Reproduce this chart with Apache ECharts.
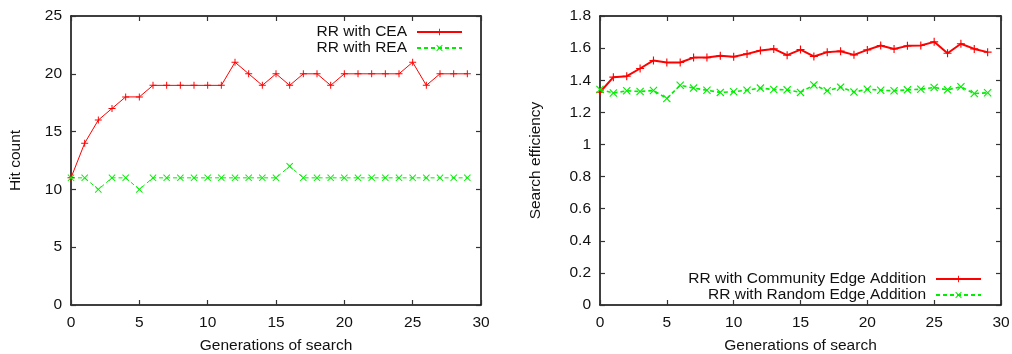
<!DOCTYPE html>
<html>
<head>
<meta charset="utf-8">
<script src="https://cdn.jsdelivr.net/npm/echarts@6/dist/echarts.min.js"></script>
<style>
  html, body { margin: 0; padding: 0; background: #fff; }
  #chart { width: 1012px; height: 354px; }
</style>
</head>
<body>
<div id="chart"></div>
<script>
  // generations 0..29
  var generations = [0, 1, 2, 3, 4, 5, 6, 7, 8, 9, 10, 11, 12, 13, 14, 15, 16, 17, 18, 19, 20, 21, 22, 23, 24, 25, 26, 27, 28, 29]

  // left panel: hit count
  var hitCEA = [11, 14, 16, 17, 18, 18, 19, 19, 19, 19, 19, 19, 21, 20, 19, 20, 19, 20, 20, 19, 20, 20, 20, 20, 20, 21, 19, 20, 20, 20]
  var hitREA = [11, 11, 10, 11, 11, 10, 11, 11, 11, 11, 11, 11, 11, 11, 11, 11, 12, 11, 11, 11, 11, 11, 11, 11, 11, 11, 11, 11, 11, 11]

  // right panel: search efficiency
  var effCEA = [1.325, 1.419, 1.425, 1.473, 1.523, 1.510, 1.510, 1.541, 1.541, 1.552, 1.546, 1.564, 1.585, 1.595, 1.556,
    1.591, 1.548, 1.575, 1.581, 1.558, 1.589, 1.616, 1.595, 1.614, 1.616, 1.639, 1.568, 1.627, 1.595, 1.575]
  var effREA = [1.342, 1.320, 1.334, 1.330, 1.336, 1.286, 1.369, 1.351, 1.338, 1.324, 1.328, 1.338, 1.351, 1.342, 1.340,
    1.324, 1.371, 1.334, 1.357, 1.326, 1.344, 1.338, 1.334, 1.340, 1.344, 1.355, 1.340, 1.359, 1.317, 1.322]

  var xTicks = [0, 5, 10, 15, 20, 25, 30]
  var hitTicks = [0, 5, 10, 15, 20, 25]
  var effTicks = [0, 0.2, 0.4, 0.6, 0.8, 1, 1.2, 1.4, 1.6, 1.8]

  var FONT = 'Liberation Sans, Arial, sans-serif'
  var FS = 15.5
  var plusPath = 'path://M4.3,0H5.7V4.3H10V5.7H5.7V10H4.3V5.7H0V4.3H4.3Z'
  var crossPath = 'path://M0,1L1,0L5,4L9,0L10,1L6,5L10,9L9,10L5,6L1,10L0,9L4,5Z'

  function pairs(ys) {
    return generations.map(function (g, i) { return [g, ys[i]] })
  }

  function boxAxis(kind, grid, pos, min, max, interval, withLabels, name, nameGap) {
    var ax = {
      type: 'value',
      gridIndex: grid,
      position: pos,
      min: min,
      max: max,
      interval: interval,
      splitLine: {show: false},
      axisLine: {show: true, onZero: false, lineStyle: {color: '#000', width: 1.5}},
      axisTick: {show: true, inside: true, length: 5, lineStyle: {color: '#333', width: 1.2}},
      axisLabel: {
        show: withLabels,
        color: '#111',
        fontFamily: FONT,
        fontSize: FS,
        margin: kind === 'x' ? 10 : 9,
        formatter: function (v) { return String(Math.round(v * 10) / 10) }
      }
    }
    if (name) {
      ax.name = name
      ax.nameLocation = 'middle'
      ax.nameGap = nameGap
      ax.nameTextStyle = {color: '#111', fontFamily: FONT, fontSize: FS}
    }
    return ax
  }

  function legendFor(names, right, top) {
    return {
      data: names,
      orient: 'vertical',
      align: 'right',
      right: right,
      top: top,
      padding: 0,
      itemWidth: 45,
      itemHeight: 8,
      itemGap: 0,
      textStyle: {color: '#111', fontFamily: FONT, fontSize: FS, lineHeight: 16, padding: [0, 5, 0, 0]}
    }
  }

  var chart = echarts.init(document.getElementById('chart'))
  chart.setOption({
    animation: false,
    backgroundColor: '#fff',
    grid: [
      {left: 71, right: 531, top: 16, bottom: 49, outerBoundsMode: 'none'},
      {left: 600, right: 11, top: 16, bottom: 49, outerBoundsMode: 'none'}
    ],
    xAxis: [
      boxAxis('x', 0, 'bottom', xTicks[0], xTicks[xTicks.length - 1], 5, true, 'Generations of search', 33),
      boxAxis('x', 0, 'top', 0, 30, 5, false),
      boxAxis('x', 1, 'bottom', 0, 30, 5, true, 'Generations of search', 33),
      boxAxis('x', 1, 'top', 0, 30, 5, false)
    ],
    yAxis: [
      boxAxis('y', 0, 'left', hitTicks[0], hitTicks[hitTicks.length - 1], 5, true, 'Hit count', 47),
      boxAxis('y', 0, 'right', 0, 25, 5, false),
      boxAxis('y', 1, 'left', effTicks[0], effTicks[effTicks.length - 1], 0.2, true, 'Search efficiency', 56),
      boxAxis('y', 1, 'right', 0, 1.8, 0.2, false)
    ],
    legend: [
      legendFor(['RR with CEA', 'RR with REA'], 549, 24),
      legendFor(['RR with Community Edge Addition', 'RR with Random Edge Addition'], 30, 271)
    ],
    series: [
      {
        name: 'RR with CEA',
        type: 'line',
        xAxisIndex: 0,
        yAxisIndex: 0,
        data: pairs(hitCEA),
        symbol: plusPath,
        symbolSize: 7,
        color: '#ff0000',
        lineStyle: {color: '#ff0000', width: 1},
        itemStyle: {color: '#ff0000'}
      },
      {
        name: 'RR with REA',
        type: 'line',
        xAxisIndex: 0,
        yAxisIndex: 0,
        data: pairs(hitREA),
        symbol: crossPath,
        symbolSize: 7,
        color: '#00ee00',
        lineStyle: {color: '#00ee00', width: 1, type: [4, 3]},
        itemStyle: {color: '#00ee00'}
      },
      {
        name: 'RR with Community Edge Addition',
        type: 'line',
        xAxisIndex: 2,
        yAxisIndex: 2,
        data: pairs(effCEA),
        symbol: plusPath,
        symbolSize: 8,
        color: '#ff0000',
        lineStyle: {color: '#ff0000', width: 2},
        itemStyle: {color: '#ff0000'}
      },
      {
        name: 'RR with Random Edge Addition',
        type: 'line',
        xAxisIndex: 2,
        yAxisIndex: 2,
        data: pairs(effREA),
        symbol: crossPath,
        symbolSize: 8,
        color: '#00ee00',
        lineStyle: {color: '#00ee00', width: 1.6, type: [4, 3]},
        itemStyle: {color: '#00ee00'}
      }
    ]
  })
</script>
</body>
</html>
